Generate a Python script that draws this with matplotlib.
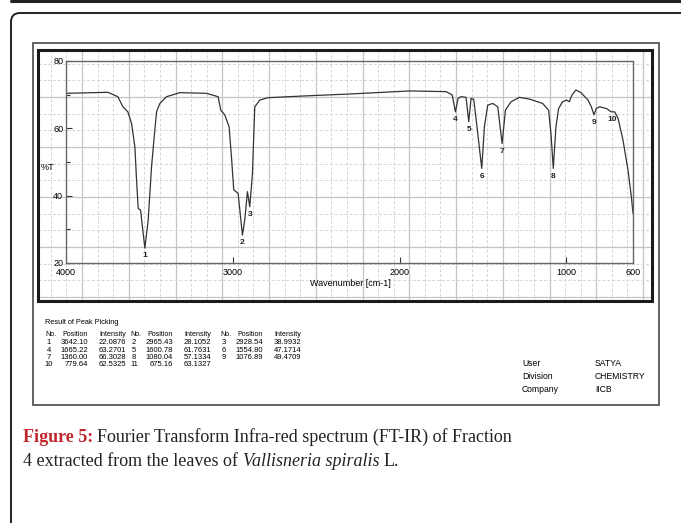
import matplotlib
matplotlib.use("Agg")
from matplotlib import pyplot as plt
from matplotlib.patches import FancyBboxPatch, Rectangle
import numpy as np

# spectrum (wavenumber cm-1, %T)
wavenumber = [4000, 3748, 3689, 3659, 3629, 3607, 3587, 3577, 3567, 3553,
              3527, 3507, 3487, 3471, 3457, 3437, 3397, 3317, 3158, 3088,
              3072, 3048, 3022, 3008, 2994, 2968, 2942, 2928, 2912, 2898,
              2882, 2868, 2838, 2789, 2579, 2299, 1940, 1720, 1684, 1665,
              1649, 1631, 1601, 1585, 1571, 1555, 1531, 1507, 1491, 1471,
              1441, 1411, 1385, 1365, 1331, 1281, 1222, 1142, 1106, 1092,
              1078, 1062, 1046, 1022, 998, 982, 966, 942, 912, 870,
              850, 834, 820, 800, 760, 730, 710, 690, 660, 630,
              610, 600]
transmittance = [70.4, 70.7, 69.4, 66.4, 64.9, 61.5, 54.5, 44.7, 36.2, 35.7,
                 24.4, 32.8, 48.6, 57.5, 64.9, 67.4, 69.4, 70.6, 70.4, 69.4,
                 65.4, 64.0, 60.5, 51.6, 41.7, 40.7, 28.3, 32.8, 41.2, 36.7,
                 46.6, 66.4, 68.4, 69.1, 69.6, 70.2, 71.1, 70.9, 69.9, 64.9,
                 68.9, 69.4, 69.2, 62.0, 68.9, 68.6, 58.5, 48.1, 60.5, 66.9,
                 67.4, 66.4, 55.5, 65.4, 67.9, 69.2, 68.7, 67.4, 65.4, 58.5,
                 48.1, 60.5, 65.9, 67.9, 68.4, 67.9, 69.9, 71.4, 70.6, 68.4,
                 66.4, 64.0, 65.9, 66.4, 65.9, 64.9, 64.9, 63.0, 56.5, 47.6,
                 39.7, 34.8]

# labelled peaks on the plot
label_names = ['1', '2', '3', '4', '5', '6', '7', '8', '9', '10']
label_wn = [3527, 2942, 2898, 1665, 1585, 1507, 1385, 1078, 834, 722]
label_t = [24.4, 28.3, 36.7, 64.9, 62.0, 48.1, 55.5, 48.1, 64.0, 64.9]

# peak picking table
peak_no = [1, 2, 3, 4, 5, 6, 7, 8, 9, 10, 11]
peak_pos = ['3642.10', '2965.43', '2928.54', '1665.22', '1600.78', '1554.80',
            '1360.00', '1080.04', '1076.89', '779.64', '675.16']
peak_int = ['22.0876', '28.1052', '38.9932', '63.2701', '61.7631', '47.1714',
            '66.3028', '57.1334', '49.4709', '62.5325', '63.1327']

info_keys = ['User', 'Division', 'Company']
info_vals = ['SATYA', 'CHEMISTRY', 'IICB']

W, H = 681, 523
fig = plt.figure(figsize=(W / 100, H / 100), dpi=100)

# page layer in pixel coordinates
bg = fig.add_axes([0, 0, 1, 1], zorder=0)
bg.set_xlim(0, W)
bg.set_ylim(H, 0)
bg.axis('off')

bg.plot([11, W], [1, 1], color='#222222', lw=2.2, solid_capstyle='round')
bg.add_patch(FancyBboxPatch((11, 13), 720, 560, boxstyle='round,pad=0,rounding_size=9',
                            fc='white', ec='#222222', lw=1.4, zorder=0.5))

# outer frame of the scanned figure
bg.add_patch(Rectangle((33, 43), 626, 362, fill=False, ec='#555555', lw=1.3, zorder=3))

# graph-paper grid
gx0, gx1, gy0, gy1 = 38, 652, 50, 301
for k in range(-3, 45):
    x = 82 + k * 46.75 / 3
    if gx0 < x < gx1:
        if k % 3 == 0:
            bg.plot([x, x], [gy0, gy1], color='#c4c4c4', lw=0.9)
        else:
            bg.plot([x, x], [gy0, gy1], color='#d6d6d6', lw=0.7, ls=(0, (3, 2)))
for k in range(-3, 20):
    y = 97 + k * 50 / 3
    if gy0 < y < gy1:
        if k % 3 == 0:
            bg.plot([gx0, gx1], [y, y], color='#c4c4c4', lw=0.9)
        else:
            bg.plot([gx0, gx1], [y, y], color='#d6d6d6', lw=0.7, ls=(0, (3, 2)))
bg.add_patch(Rectangle((gx0, gy0), gx1 - gx0, gy1 - gy0, fill=False, ec='#1a1a1a',
                       lw=2.2, zorder=3))

# spectrum axes
ax = fig.add_axes([66 / W, 1 - 263 / H, (633 - 66) / W, (263 - 61) / H], zorder=1)
ax.patch.set_alpha(0)
ax.plot(wavenumber, transmittance, color='#333333', lw=0.9)
ax.set_xlim(4000, 600)
ax.set_ylim(20, 80)
for s in ax.spines.values():
    s.set_color('#666666')
    s.set_linewidth(1.0)

sans = ['Liberation Sans', 'DejaVu Sans']
tick_font = dict(family=sans, size=6.5)
ax.set_xticks([4000, 3000, 2000, 1000, 600])
ax.set_xticklabels(['4000', '3000', '2000', '1000', '600'], **tick_font)
ax.set_yticks([20, 40, 60, 80])
ax.set_yticklabels(['20', '40', '60', '80'], **tick_font)
ax.set_yticks([30, 50, 70], minor=True)
ax.tick_params(axis='both', direction='in', length=4, width=0.8, color='#333333', pad=2)
ax.tick_params(axis='y', which='minor', direction='in', length=3, width=0.8, color='#333333')
ax.tick_params(axis='x', pad=3.5)
ax.xaxis.get_major_ticks()[0].tick1line.set_visible(False)
ax.xaxis.get_major_ticks()[-1].tick1line.set_visible(False)

for name, x, t in zip(label_names, label_wn, label_t):
    ax.annotate(name, (x, t), xytext=(0, -3), textcoords='offset points',
                ha='center', va='top', fontsize=6, fontweight='bold',
                family=sans, color='#222222')

bg.text(47, 168, '%T', ha='center', va='center', **tick_font)
bg.text(350, 283, 'Wavenumber [cm-1]', ha='center', va='center', **tick_font)

# peak picking table
fs = 5.5
bg.text(45, 323, 'Result of Peak Picking', ha='left', va='center', family=sans, fontsize=5.3)
col_x = [45, 130, 220]
for cx in col_x:
    bg.text(cx, 335, 'No.', ha='left', va='center', family=sans, fontsize=5.1)
    bg.text(cx + 17, 335, 'Position', ha='left', va='center', family=sans, fontsize=5.1)
    bg.text(cx + 54, 335, 'Intensity', ha='left', va='center', family=sans, fontsize=5.1)
for i, (n, p, v) in enumerate(zip(peak_no, peak_pos, peak_int)):
    cx = col_x[i % 3]
    y = 343 + (i // 3) * 7.2
    bg.text(cx + 4, y, str(n), ha='center', va='center', family=sans, fontsize=fs)
    bg.text(cx + 43, y, p, ha='right', va='center', family=sans, fontsize=fs)
    bg.text(cx + 54, y, v, ha='left', va='center', family=sans, fontsize=fs)

for j, (k, v) in enumerate(zip(info_keys, info_vals)):
    y = 363 + j * 13.5
    bg.text(522, y, k, ha='left', va='center', family=sans, fontsize=6.2)
    bg.text(595, y, v, ha='left', va='center', family=sans, fontsize=6.2)

# caption
serif = ['Liberation Serif', 'DejaVu Serif']
cfs = 13
t1 = bg.text(23, 437, 'Figure 5:', ha='left', va='center', family=serif,
             fontsize=cfs, fontweight='bold', color='#c0272d')
fig.canvas.draw()
bb = t1.get_window_extent()
bg.text(bb.x1 + 4, H - 437, 'Fourier Transform Infra-red spectrum (FT-IR) of Fraction',
        transform=None, ha='left', va='center', family=serif, fontsize=cfs, color='#222222')
t2 = bg.text(23, 461, '4 extracted from the leaves of ', ha='left', va='center', family=serif,
             fontsize=cfs, color='#222222')
fig.canvas.draw()
bb2 = t2.get_window_extent()
t3 = bg.text(bb2.x1 + 1, H - 461, 'Vallisneria spiralis', transform=None, ha='left', va='center',
             family=serif, fontsize=cfs, style='italic', color='#222222')
fig.canvas.draw()
bb3 = t3.get_window_extent()
bg.text(bb3.x1 + 4, H - 461, 'L.', transform=None, ha='left', va='center', family=serif,
        fontsize=cfs, color='#222222')

fig.savefig('out.png', dpi=100)
